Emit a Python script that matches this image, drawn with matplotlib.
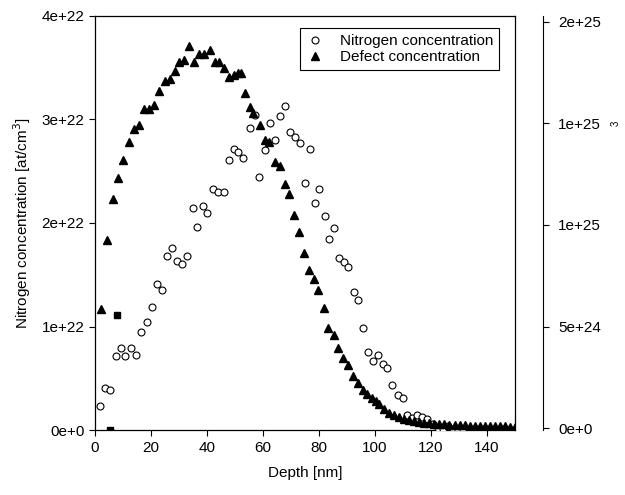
import matplotlib
matplotlib.use("Agg")
import matplotlib.pyplot as plt
from matplotlib.lines import Line2D

plt.rcParams["font.family"] = ["Liberation Sans", "DejaVu Sans"]
plt.rcParams["font.size"] = 11

# Nitrogen concentration (left axis, at/cm^3)
nitrogen_depth = [
    1.8, 3.6, 5.4, 7.5, 9.3, 10.8, 12.9, 14.7, 16.5, 18.6, 20.4, 22.2, 24.0,
    25.8, 27.6, 29.4, 31.2, 33.0, 35.1, 36.6, 38.7, 40.1, 42.3, 44.1, 45.9,
    47.7, 49.5, 51.2, 53.0, 55.2, 57.0, 58.4, 60.6, 62.4, 64.2, 65.9, 67.7,
    69.5, 71.3, 73.1, 74.9, 76.7, 78.5, 79.9, 82.1, 83.5, 85.3, 87.1, 88.9,
    90.3, 92.5, 93.9, 95.7, 97.5, 99.3, 101.1, 102.9, 104.3, 106.1, 108.2,
    110.0, 111.5, 113.3, 115.1, 116.8, 118.6, 120.8, 122.6, 124.4, 126.2,
    128.0, 129.8, 131.6, 133.4, 135.2, 137.0, 138.8, 140.6, 142.4, 144.2,
    146.0, 147.8, 149.6,
]
nitrogen_conc = [
    0.23e22, 0.41e22, 0.39e22, 0.72e22, 0.79e22, 0.72e22, 0.79e22, 0.73e22,
    0.95e22, 1.04e22, 1.19e22, 1.41e22, 1.35e22, 1.68e22, 1.76e22, 1.63e22,
    1.60e22, 1.68e22, 2.14e22, 1.96e22, 2.16e22, 2.10e22, 2.33e22, 2.30e22,
    2.30e22, 2.61e22, 2.71e22, 2.69e22, 2.63e22, 2.92e22, 3.04e22, 2.44e22,
    2.70e22, 2.97e22, 2.80e22, 3.03e22, 3.13e22, 2.88e22, 2.83e22, 2.77e22,
    2.39e22, 2.71e22, 2.19e22, 2.33e22, 2.07e22, 1.85e22, 1.95e22, 1.66e22,
    1.62e22, 1.58e22, 1.33e22, 1.26e22, 0.99e22, 0.75e22, 0.67e22, 0.73e22,
    0.64e22, 0.60e22, 0.44e22, 0.34e22, 0.31e22, 0.15e22, 0.12e22, 0.15e22,
    0.13e22, 0.11e22, 0.06e22, 0.02e22, 0.01e22, 0.04e22, 0.01e22, 0.00e22,
    0.01e22, 0.00e22, 0.01e22, 0.00e22, 0.01e22, 0.00e22, 0.01e22, 0.00e22,
    0.01e22, 0.00e22, 0.00e22,
]

# Defect concentration (right axis)
defect_depth = [
    2.2, 4.3, 6.5, 8.2, 10.0, 12.2, 14.0, 15.8, 17.6, 19.4, 21.1, 22.9, 25.1,
    26.9, 28.7, 30.1, 31.9, 33.7, 35.5, 37.3, 39.1, 40.9, 42.7, 44.4, 46.2,
    48.0, 49.8, 51.0, 52.3, 53.4, 55.2, 56.6, 58.8, 60.6, 62.0, 64.2, 65.9,
    67.7, 69.2, 71.0, 72.8, 74.6, 76.3, 78.1, 79.6, 81.7, 83.2, 85.3, 86.7,
    88.5, 90.3, 92.1, 93.9, 95.7, 97.1, 98.9, 100.4, 101.4, 103.2, 105.0,
    106.8, 108.6, 110.4, 112.2, 114.0, 115.8, 117.6, 119.4, 121.2, 123.0,
    124.8, 126.6, 128.4, 130.2, 132.0, 133.8, 135.6, 137.4, 139.2, 141.0,
    142.8, 144.6, 146.4, 148.2, 150.0,
]
defect_conc = [
    0.585e25, 0.927e25, 1.13e25, 1.23e25, 1.32e25, 1.41e25, 1.47e25, 1.49e25,
    1.57e25, 1.57e25, 1.59e25, 1.66e25, 1.71e25, 1.72e25, 1.76e25, 1.80e25,
    1.81e25, 1.88e25, 1.80e25, 1.84e25, 1.84e25, 1.86e25, 1.80e25, 1.80e25,
    1.77e25, 1.73e25, 1.74e25, 1.75e25, 1.75e25, 1.65e25, 1.58e25, 1.55e25,
    1.49e25, 1.42e25, 1.41e25, 1.31e25, 1.29e25, 1.20e25, 1.15e25, 1.05e25,
    0.966e25, 0.863e25, 0.776e25, 0.732e25, 0.678e25, 0.590e25, 0.493e25,
    0.459e25, 0.395e25, 0.346e25, 0.312e25, 0.259e25, 0.224e25, 0.190e25,
    0.166e25, 0.146e25, 0.132e25, 0.117e25, 0.093e25, 0.073e25, 0.063e25,
    0.054e25, 0.044e25, 0.039e25, 0.034e25, 0.030e25, 0.027e25, 0.025e25,
    0.022e25, 0.020e25, 0.019e25, 0.017e25, 0.016e25, 0.015e25, 0.014e25,
    0.013e25, 0.012e25, 0.012e25, 0.011e25, 0.010e25, 0.010e25, 0.009e25,
    0.009e25, 0.008e25, 0.008e25,
]

# two stray filled squares on the left axis
square_depth = [5.4, 7.9]
square_conc = [0.0, 1.11e22]

x_ticks = [0, 20, 40, 60, 80, 100, 120, 140]
left_ticks = [0, 1e22, 2e22, 3e22, 4e22]
left_labels = ["0e+0", "1e+22", "2e+22", "3e+22", "4e+22"]
right_ticks = [0, 0.5e25, 1.0e25, 1.5e25, 2.0e25]
right_labels = ["0e+0", "5e+24", "1e+25", "1e+25", "2e+25"]

fig = plt.figure(figsize=(6.25, 4.95), dpi=100)
ax = fig.add_axes([0.152, 0.131, 0.672, 0.837])

ax.plot(nitrogen_depth, nitrogen_conc, linestyle="none", marker="o",
        markersize=5, markerfacecolor="white", markeredgecolor="black",
        markeredgewidth=0.8, zorder=3)
ax.plot(square_depth, square_conc, linestyle="none", marker="s",
        markersize=4, color="black", zorder=4)

ax.set_xlim(0, 150)
ax.set_ylim(0, 4e22)
ax.set_xticks(x_ticks)
ax.set_yticks(left_ticks)
ax.set_yticklabels(left_labels)
ax.tick_params(direction="out", length=4, width=0.8, labelsize=11)
ax.set_xlabel("Depth [nm]", fontsize=11, labelpad=8)
ax.set_ylabel("Nitrogen concentration [at/cm$^3$]", fontsize=11, labelpad=6)
for sp in ax.spines.values():
    sp.set_linewidth(0.9)

ax2 = ax.twinx()
ax2.plot(defect_depth, defect_conc, linestyle="none", marker="^",
         markersize=5.5, color="black", zorder=3)
ax2.set_ylim(-0.0098e25, 2.029e25)
ax2.set_yticks(right_ticks)
ax2.set_yticklabels(right_labels)
ax2.tick_params(direction="out", length=4, width=0.8, labelsize=11, pad=7)
ax2.spines["right"].set_position(("outward", 20))
ax2.spines["right"].set_linewidth(0.8)
for side in ("left", "top", "bottom"):
    ax2.spines[side].set_visible(False)

handles = [
    Line2D([], [], linestyle="none", marker="o", markersize=5,
           markerfacecolor="white", markeredgecolor="black", markeredgewidth=0.8),
    Line2D([], [], linestyle="none", marker="^", markersize=5.5, color="black"),
]
leg = ax2.legend(handles, ["Nitrogen concentration", "Defect concentration"],
                 loc="upper right", bbox_to_anchor=(0.962, 0.971),
                 borderaxespad=0, fancybox=False, framealpha=1,
                 edgecolor="black", fontsize=11, handlelength=1.2,
                 handletextpad=1.0, labelspacing=0.15, borderpad=0.4)
leg.get_frame().set_linewidth(0.8)

# superscript left over from the clipped right-hand axis title
fig.text(0.985, 1 - 123 / 495, "3", rotation=90, fontsize=7,
         ha="center", va="center")

fig.savefig("out.png", dpi=100)
